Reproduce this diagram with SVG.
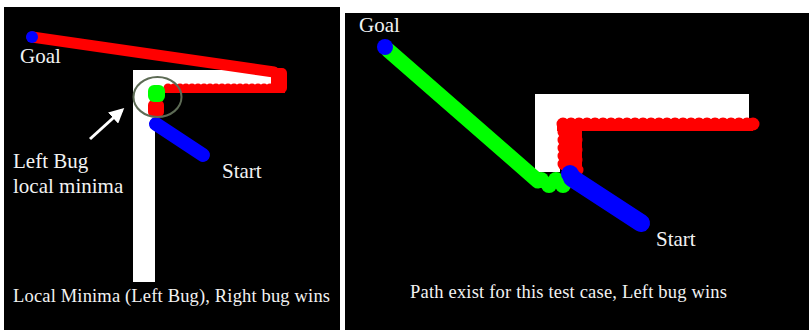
<svg xmlns="http://www.w3.org/2000/svg" width="809" height="330" viewBox="0 0 809 330">
<defs>
<style>
.bg{fill:#000}
.wall{fill:#fff}
.txt{font-family:"Liberation Serif","Times New Roman",serif;fill:#f2f2f2}
.lbl{font-size:21px}
.cap{font-size:18.5px}
.red{fill:#ff0000}
.green{fill:#00ff00}
.blue{fill:#0000ff}
</style>
<marker id="ah" viewBox="0 0 10 10" refX="8" refY="5" markerWidth="5" markerHeight="5" orient="auto" markerUnits="strokeWidth">
<path d="M0,0 L10,5 L0,10 z" fill="#fff"/>
</marker>
</defs>
<rect x="0" y="0" width="809" height="330" fill="#fff"/>
<g id="panel-left">
<rect class="bg" x="4" y="7" width="336" height="323"/>
<rect class="wall" x="133" y="70" width="140" height="18"/>
<rect class="wall" x="133" y="70" width="22" height="212"/>
<g id="left-red">
<line x1="32" y1="37" x2="274" y2="72" stroke="#f00" stroke-width="11" stroke-linecap="round"/>
<rect class="red" x="271" y="68" width="16" height="25" rx="5"/>
<rect class="red" x="163" y="88" width="122" height="5"/>
<g class="red">
<circle cx="168" cy="88" r="4.5"/><circle cx="174" cy="88" r="4.5"/><circle cx="180" cy="88" r="4.5"/><circle cx="186" cy="88" r="4.5"/><circle cx="192" cy="88" r="4.5"/><circle cx="198" cy="88" r="4.5"/><circle cx="204" cy="88" r="4.5"/><circle cx="210" cy="88" r="4.5"/><circle cx="216" cy="88" r="4.5"/><circle cx="222" cy="88" r="4.5"/><circle cx="228" cy="88" r="4.5"/><circle cx="234" cy="88" r="4.5"/><circle cx="240" cy="88" r="4.5"/><circle cx="246" cy="88" r="4.5"/><circle cx="252" cy="88" r="4.5"/><circle cx="258" cy="88" r="4.5"/><circle cx="264" cy="88" r="4.5"/><circle cx="270" cy="88" r="4.5"/>
</g>
<rect class="red" x="148" y="100" width="16" height="17" rx="5"/>
</g>
<rect class="green" x="148" y="85" width="17" height="17" rx="6"/>
<circle class="blue" cx="32" cy="37" r="6"/>
<line x1="156" y1="124" x2="203" y2="155" stroke="#0000ff" stroke-width="14" stroke-linecap="round"/>
<ellipse cx="157.5" cy="97" rx="24" ry="20" fill="none" stroke="#5d6b55" stroke-width="2"/>
<line x1="90" y1="139" x2="122" y2="110" stroke="#fff" stroke-width="3" marker-end="url(#ah)"/>
<text class="txt lbl" x="20" y="63">Goal</text>
<text class="txt lbl" x="222" y="178">Start</text>
<text class="txt lbl" x="13" y="168">Left Bug</text>
<text class="txt lbl" x="13" y="193">local minima</text>
<text class="txt cap" x="13" y="302" textLength="317">Local Minima (Left Bug), Right bug wins</text>
</g>
<g id="panel-right">
<rect class="bg" x="345" y="13" width="464" height="317"/>
<rect class="wall" x="535" y="94" width="214" height="28"/>
<rect class="wall" x="535" y="94" width="25" height="78"/>
<g id="right-red">
<rect class="red" x="557" y="124" width="196" height="7"/>
<g class="red">
<circle cx="563" cy="124" r="6.5"/><circle cx="571" cy="124" r="6.5"/><circle cx="579" cy="124" r="6.5"/><circle cx="587" cy="124" r="6.5"/><circle cx="595" cy="124" r="6.5"/><circle cx="603" cy="124" r="6.5"/><circle cx="611" cy="124" r="6.5"/><circle cx="619" cy="124" r="6.5"/><circle cx="627" cy="124" r="6.5"/><circle cx="635" cy="124" r="6.5"/><circle cx="643" cy="124" r="6.5"/><circle cx="651" cy="124" r="6.5"/><circle cx="659" cy="124" r="6.5"/><circle cx="667" cy="124" r="6.5"/><circle cx="675" cy="124" r="6.5"/><circle cx="683" cy="124" r="6.5"/><circle cx="691" cy="124" r="6.5"/><circle cx="699" cy="124" r="6.5"/><circle cx="707" cy="124" r="6.5"/><circle cx="715" cy="124" r="6.5"/><circle cx="723" cy="124" r="6.5"/><circle cx="731" cy="124" r="6.5"/><circle cx="739" cy="124" r="6.5"/><circle cx="747" cy="124" r="6.5"/><circle cx="753" cy="124" r="6.5"/>
<circle cx="564" cy="132" r="6.5"/><circle cx="564" cy="140" r="6.5"/><circle cx="564" cy="148" r="6.5"/><circle cx="564" cy="156" r="6.5"/><circle cx="564" cy="164" r="6.5"/>
<circle cx="576" cy="140" r="6.5"/><circle cx="576" cy="150" r="6.5"/><circle cx="576" cy="160" r="6.5"/><circle cx="577" cy="170" r="6.5"/>
</g>
<rect class="red" x="563" y="124" width="19" height="50"/>
</g>
<line x1="388" y1="50" x2="538" y2="181" stroke="#00ff00" stroke-width="15" stroke-linecap="round"/>
<g class="green">
<circle cx="541" cy="180" r="8"/><circle cx="549" cy="185" r="8"/><circle cx="556" cy="180" r="8"/><circle cx="563" cy="185" r="8"/>
</g>
<circle class="blue" cx="385" cy="47" r="8"/>
<line x1="572" y1="178" x2="641" y2="223" stroke="#0000ff" stroke-width="18" stroke-linecap="round"/>
<circle class="blue" cx="570" cy="174" r="9"/>
<text class="txt lbl" x="359" y="32">Goal</text>
<text class="txt lbl" x="656" y="246">Start</text>
<text class="txt cap" x="410" y="298" textLength="317">Path exist for this test case, Left bug wins</text>
</g>
</svg>
